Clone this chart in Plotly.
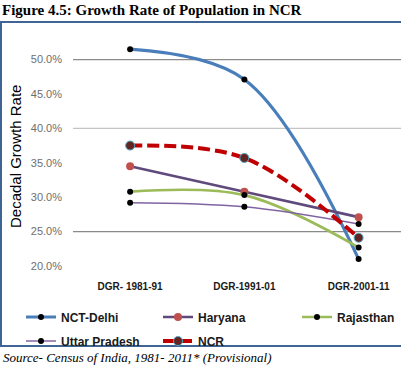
import plotly.graph_objects as go

categories = ["DGR- 1981-91", "DGR-1991-01", "DGR-2001-11"]
nct_delhi = [0.515, 0.471, 0.210]
haryana = [0.345, 0.308, 0.271]
rajasthan = [0.308, 0.303, 0.227]
uttar_pradesh = [0.292, 0.286, 0.261]
ncr = [0.375, 0.357, 0.241]
y_ticks = [0.20, 0.25, 0.30, 0.35, 0.40, 0.45, 0.50]
grid_levels = [0.50, 0.40, 0.25]

W, H = 401, 377
L, R, T, B = 73, 0, 32, 111
pw, ph = W - L - R, H - T - B

def px_x(p):
    return (p - L) / pw

def px_y(p):
    return (H - B - p) / ph

fig = go.Figure()

def add(name, vals, color, width, msize, mcolor, dash="solid", mline=None, legend="legend"):
    fig.add_trace(go.Scatter(
        x=categories, y=vals, name=name, mode="lines+markers",
        line=dict(color=color, width=width, shape="spline", smoothing=1, dash=dash),
        marker=dict(size=msize, color=mcolor,
                    line=dict(color=mline or mcolor, width=1 if mline else 0)),
        cliponaxis=False, legend=legend,
    ))

add("NCT-Delhi", nct_delhi, "#4a7ebb", 3.2, 6, "#000000")
add("Haryana", haryana, "#604a7b", 2.6, 8, "#c0504d")
add("Rajasthan", rajasthan, "#9bbb59", 2.6, 6, "#000000", legend="legend3")
add("Uttar Pradesh", uttar_pradesh, "#8064a2", 1.6, 6, "#000000", legend="legend2")
add("NCR", ncr, "#c00000", 4, 9, "#632523", dash="12px,5px", mline="#4bacc6", legend="legend2")

shapes = []
for g, c in zip(grid_levels, ["#8a8a8a", "#c4c4c4", "#8a8a8a"]):
    shapes.append(dict(type="line", xref="paper", yref="y", x0=0, x1=1, y0=g, y1=g,
                       line=dict(color=c, width=1.3), layer="below"))
shapes.append(dict(type="rect", xref="paper", yref="paper",
                   x0=px_x(1), x1=px_x(W + 5), y0=px_y(346), y1=px_y(22),
                   line=dict(color="#3e6593", width=2), layer="below"))

legend_font = dict(family="Liberation Sans, Arial", size=12, color="#1a1a1a", weight="bold")

def legend_at(xp, yp, ew=None, xanchor="left"):
    d = dict(orientation="h", x=px_x(xp), y=px_y(yp), xanchor=xanchor, yanchor="top",
             font=legend_font, bgcolor="rgba(0,0,0,0)", traceorder="normal")
    if ew:
        d.update(entrywidth=ew, entrywidthmode="pixels")
    return d

fig.update_layout(
    width=W, height=H,
    margin=dict(l=L, r=R, t=T, b=B),
    paper_bgcolor="white", plot_bgcolor="white",
    showlegend=True,
    title=dict(text="<b>Figure 4.5: Growth Rate of Population in NCR</b>",
               font=dict(family="Liberation Serif, Times New Roman", size=15, color="#000000"),
               x=0.005, xref="container", xanchor="left",
               y=1 - 10 / H, yref="container", yanchor="middle"),
    xaxis=dict(type="category", categoryarray=categories, range=[-0.5, (W - 130) / 114.3],
               showgrid=False, showline=False, zeroline=False, ticks="",
               ticklabelstandoff=13,
               tickfont=dict(family="Liberation Sans, Arial", size=10, color="#1a1a1a", weight="bold")),
    yaxis=dict(range=[0.20, 0.54], tickvals=y_ticks, tickformat=".1%",
               showgrid=False, showline=False, zeroline=False, ticks="",
               ticklabelstandoff=10,
               tickfont=dict(family="Liberation Sans, Arial", size=11, color="#6e6e6e")),
    legend=legend_at(21, 302.5, 92),
    legend2=legend_at(21, 326.5, 92),
    legend3=legend_at(400, 302.5, None, xanchor="right"),
    shapes=shapes,
    annotations=[
        dict(text="Decadal Growth Rate", xref="paper", yref="paper",
             x=px_x(15), y=px_y(157), xanchor="center", yanchor="middle",
             textangle=-90, showarrow=False,
             font=dict(family="Liberation Sans, Arial", size=15, color="#000000")),
        dict(text="<i>Source- Census of India, 1981- 2011* (Provisional)</i>",
             xref="paper", yref="paper", x=px_x(1), y=px_y(357),
             xanchor="left", yanchor="middle", showarrow=False,
             font=dict(family="Liberation Serif, Times New Roman", size=13, color="#000000")),
    ],
)

fig.write_html("out.html", config={"displayModeBar": False},
               post_script="document.body.style.margin='0';document.body.style.overflow='hidden';")
